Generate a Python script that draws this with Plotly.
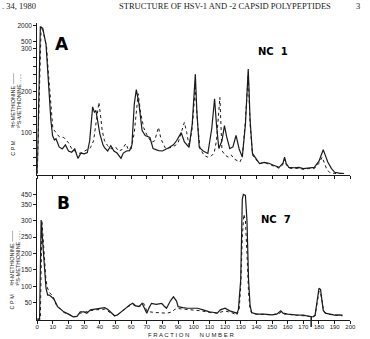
import numpy as np
import plotly.graph_objects as go

W, H = 370, 339

# ---------------- data ----------------
# Panel A (NC 1)
a_h3_frac = [0, 2, 3.5, 5.6, 6.7, 7.7, 8.75, 9.8, 11, 12, 14, 16, 18, 20, 22, 24, 26, 28, 30, 32, 33.5,
             35.4, 36.5, 37.5, 39, 40, 42, 43, 45, 47, 49, 51, 53.5, 55, 57, 59, 60.5, 62, 63.3, 65, 67,
             69, 72, 74, 77.5, 80, 84, 87, 89, 91, 92, 94, 97, 99, 101, 102, 103.5, 106, 109, 111.5, 113.3,
             114.5, 116, 118, 119.6, 121, 123, 125, 127, 129, 131, 133, 134.8, 136, 137.5, 140, 142, 145,
             148, 151, 154.5, 157, 158, 159, 160.7, 164, 167, 170, 173, 177, 180, 182.7, 184, 185.6, 188,
             190, 193, 196]
a_h3_cpm = [0, 1900, 1800, 434, 249, 186, 129, 93, 82, 85, 65, 60, 70, 55, 52, 60, 37, 50, 48, 51, 80,
            163, 150, 154, 120, 97, 70, 63, 55, 68, 55, 50, 37, 50, 55, 56, 70, 170, 205, 170, 105,
            93, 88, 61, 56, 55, 63, 70, 80, 95, 100, 77, 64, 120, 241, 150, 64, 55, 49, 110, 183,
            120, 61, 80, 117, 90, 61, 65, 93, 60, 40, 120, 253, 130, 49, 35, 24, 27,
            25, 20, 15, 25, 40, 25, 15, 14, 15, 12, 14, 15, 30, 58, 45, 28, 12,
            3, 1, 0]
a_s35_frac = [0, 2.5, 3.5, 5, 6, 7, 8, 9, 10, 12, 14, 17, 19, 20, 22, 24, 26, 28, 30, 32, 34, 36, 37.5,
              39.4, 40.5, 41.5, 43, 45, 47, 50, 52, 54, 56.7, 58, 60, 62, 64.5, 66, 68, 70, 73, 75, 77.5,
              79, 82, 84, 86, 88, 90, 92, 94, 95.5, 97, 99, 101, 102.5, 104, 106.7, 109, 111, 113, 114.5,
              116.7, 118, 120, 122, 124, 126, 128, 129.5, 131, 133, 134.8, 136, 137.5, 140, 142, 145, 148,
              151, 154.5, 157, 158, 159, 161, 164, 167, 170, 173, 177, 180, 182, 183.5, 185, 187, 190, 196]
a_s35_cpm = [0, 1950, 1700, 600, 350, 250, 200, 160, 110, 100, 90, 88, 80, 75, 61, 55, 49, 50, 55, 58, 63, 80, 120,
             174, 140, 105, 80, 68, 60, 65, 55, 58, 73, 60, 60, 100, 195, 150, 112, 95, 76, 80, 113,
             85, 61, 62, 65, 68, 75, 100, 125, 100, 68, 110, 210, 120, 60, 44, 40, 42, 50, 80,
             186, 56, 45, 40, 45, 35, 30, 28, 40, 130, 240, 120, 45, 32, 24, 27, 22,
             18, 13, 22, 35, 22, 13, 12, 13, 10, 12, 12, 25, 40, 25, 10, 2, 0, 0]

# Panel B (NC 7)
b_h3_frac = [0, 1.5, 2.5, 4, 5.6, 6.7, 7.7, 9, 10.8, 13, 15, 17, 20, 23, 25.4, 27.5, 30, 31.7, 34, 37, 40,
             43, 45, 47, 49.4, 51, 54, 57, 59, 61, 63, 65, 67, 68.5, 70, 71.5, 73, 76, 79.5, 81, 82.6, 85,
             87, 89, 90, 93, 96, 100, 102.5, 106, 110, 113, 115, 117, 120, 123, 125.5, 127.5, 128.5, 130,
             131, 131.7, 133, 134, 135, 136, 137, 140, 145, 150, 153, 155.6, 157, 160, 165, 170, 175,
             176.5, 177.5, 179, 180, 181, 182, 182.7, 184, 187, 190, 193, 195]
b_h3_cpm = [0, 0, 302, 200, 94, 73, 73, 68, 60, 38, 30, 22, 15, 7, 8, 22, 22, 18, 28, 30, 33,
            35, 30, 20, 10, 12, 25, 35, 43, 48, 40, 38, 48, 35, 18, 35, 48, 45, 48, 40, 33, 55,
            68, 55, 38, 35, 33, 33, 33, 28, 22, 20, 18, 28, 33, 25, 22, 18, 28, 120,
            400, 455, 440, 300, 120, 40, 20, 15, 15, 13, 15, 25, 18, 15, 13, 12, 7,
            7, 12, 60, 94, 90, 50, 27, 18, 15, 12, 13, 12]
b_s35_frac = [0, 2, 3, 4.5, 5.6, 6.5, 8, 10, 12, 14, 17, 20, 23, 25.5, 27.5, 30, 33, 37, 40, 43, 45, 47,
              49.4, 52, 55, 58, 61, 63, 66, 68, 70, 72, 75, 80, 83, 86, 88, 90, 95, 100, 105, 110, 115,
              120, 125, 127.5, 129, 130, 131, 132, 133, 134, 135, 136, 137, 140, 145, 150, 155, 156, 158,
              165, 170, 175, 177.5, 179, 180, 181, 182, 183, 185, 190, 195]
b_s35_cpm = [0, 0, 300, 200, 119, 95, 80, 70, 45, 35, 20, 15, 8, 8, 18, 20, 25, 28, 30, 30, 25, 18,
             10, 15, 28, 38, 45, 38, 40, 48, 25, 22, 20, 18, 18, 22, 30, 32, 30, 28, 25, 20, 18,
             25, 18, 12, 30, 100, 250, 320, 300, 200, 80, 30, 18, 15, 15, 13, 18, 22, 15,
             12, 10, 8, 10, 60, 85, 80, 45, 25, 15, 12, 10]

x_ticks = list(range(0, 201, 10))
a_tick_labels = [100, 200, 300, 500, 2000]
b_tick_labels = [50, 100, 150, 200, 250, 300, 350, 450]

# broken-axis mapping (value -> axis position)
A_BREAK_VALS = [0, 100, 200, 300, 500, 2000]
A_BREAK_POS = [0, 41, 82, 125, 132, 148]
B_BREAK_VALS = [0, 350, 450]
B_BREAK_POS = [0, 115, 125]


def tA(v):
    return np.interp(np.asarray(v, float), A_BREAK_VALS, A_BREAK_POS)


def tB(v):
    return np.interp(np.asarray(v, float), B_BREAK_VALS, B_BREAK_POS)


def px(x):
    return x / W


def py(y):
    return 1 - y / H


INK = "#1a1a1a"
fig = go.Figure()
fig.add_trace(go.Scatter(x=a_h3_frac, y=tA(a_h3_cpm), mode="lines",
                         line=dict(color=INK, width=1.2), xaxis="x", yaxis="y"))
fig.add_trace(go.Scatter(x=a_s35_frac, y=tA(a_s35_cpm), mode="lines",
                         line=dict(color=INK, width=1, dash="dot"), xaxis="x", yaxis="y"))
fig.add_trace(go.Scatter(x=b_h3_frac, y=tB(b_h3_cpm), mode="lines",
                         line=dict(color=INK, width=1.2), xaxis="x2", yaxis="y2"))
fig.add_trace(go.Scatter(x=b_s35_frac, y=tB(b_s35_cpm), mode="lines",
                         line=dict(color=INK, width=1, dash="dot"), xaxis="x2", yaxis="y2"))

tickfont = dict(family="Liberation Sans, Arial, sans-serif", size=6.5, color=INK)
xdom = [px(36), px(356)]

a_minor = [v for v in range(20, 300, 20) if v not in (100, 200)]
a_tv = list(tA(a_tick_labels)) + list(tA(a_minor))
a_tt = [str(v) for v in a_tick_labels] + [""] * len(a_minor)

common_x = dict(range=[0, 200], showgrid=False, zeroline=False, showline=True, linecolor=INK,
                linewidth=1, ticks="outside", ticklen=3, tickwidth=1, tickcolor=INK,
                tickmode="array", tickvals=x_ticks)
common_y = dict(showgrid=False, zeroline=False, showline=True, linecolor=INK, linewidth=1,
                ticks="outside", ticklen=3, tickwidth=1, tickcolor=INK, tickmode="array",
                tickfont=tickfont)

fig.update_layout(
    width=W, height=H, margin=dict(l=0, r=0, t=0, b=0),
    paper_bgcolor="white", plot_bgcolor="white", showlegend=False,
    xaxis=dict(domain=xdom, anchor="y", showticklabels=False, **common_x),
    yaxis=dict(domain=[py(175), py(22)], anchor="x", range=[-2, 151],
               tickvals=a_tv, ticktext=a_tt, **common_y),
    xaxis2=dict(domain=xdom, anchor="y2", ticktext=[str(v) for v in x_ticks], ticklabelstandoff=-2,
                tickfont=dict(family="Liberation Sans, Arial, sans-serif", size=6, color=INK),
                **common_x),
    yaxis2=dict(domain=[py(320), py(178)], anchor="x2", range=[-1, 141],
                tickvals=list(tB(b_tick_labels)), ticktext=[str(v) for v in b_tick_labels], **common_y),
)

ann = []
serif = "Liberation Serif, Times New Roman, serif"
sans = "Liberation Sans, Arial, sans-serif"
bold = "DejaVu Sans, Liberation Sans, sans-serif"
ann.append(dict(x=px(0), y=py(5), text=". 34, 1980", xanchor="left", font=dict(family=serif, size=8.5, color=INK)))
ann.append(dict(x=px(228), y=py(5), text="STRUCTURE OF HSV-1 AND -2 CAPSID POLYPEPTIDES",
                font=dict(family=serif, size=8.5, color=INK)))
ann.append(dict(x=px(364), y=py(5), text="3", font=dict(family=serif, size=8.5, color=INK)))
ann.append(dict(x=px(61), y=py(43), text="<b>A</b>", font=dict(family=bold, size=17, color="black")))
ann.append(dict(x=px(62.5), y=py(202.5), text="<b>B</b>", font=dict(family=bold, size=17, color="black")))
ann.append(dict(x=px(277), y=py(51), text="<b>NC  1</b>", font=dict(family=bold, size=10, color="black")))
ann.append(dict(x=px(280), y=py(219), text="<b>NC  7</b>", font=dict(family=bold, size=10, color="black")))
ann.append(dict(x=px(193), y=py(334.5), text="F R A C T I O N &nbsp;&nbsp;&nbsp;&nbsp; N U M B E R",
                font=dict(family=sans, size=6, color=INK)))
for cpm_y, meth_y in [(147, 100), (301, 258)]:
    ann.append(dict(x=px(10.5), y=py(cpm_y), text="C P M", textangle=-90,
                    font=dict(family=sans, size=5.5, color=INK)))
    ann.append(dict(x=px(10.5), y=py(meth_y), text="³H-METHIONINE ——", textangle=-90,
                    font=dict(family=sans, size=5.5, color=INK)))
    ann.append(dict(x=px(17), y=py(meth_y), text="³⁵S-METHIONINE ......", textangle=-90,
                    font=dict(family=sans, size=5.5, color=INK)))
for a in ann:
    a.setdefault("xanchor", "center")
    a.update(xref="paper", yref="paper", showarrow=False, yanchor="middle",
             borderpad=0, borderwidth=0)
fig.update_layout(annotations=ann)

# small marker at fraction 175 below panel B axis
fig.add_shape(type="line", xref="x2", yref="paper", x0=175, x1=175, y0=py(327), y1=py(316),
              line=dict(color=INK, width=1.5))

fig.write_html("out.html")
